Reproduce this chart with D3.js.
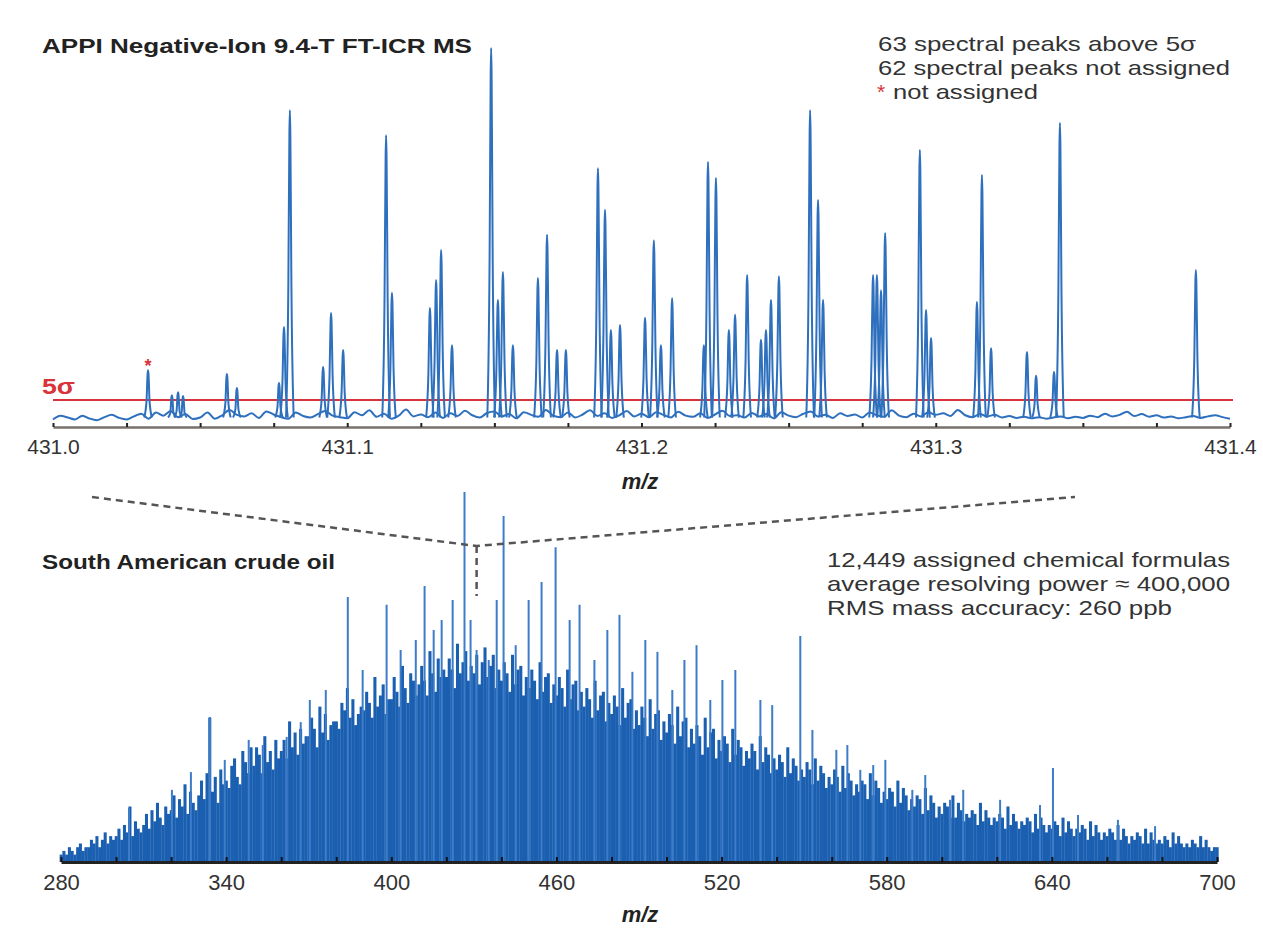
<!DOCTYPE html>
<html><head><meta charset="utf-8">
<script src="https://cdn.jsdelivr.net/npm/d3@7"></script>
<style>
body{margin:0;background:#fff;}
svg text{font-family:"Liberation Sans",Arial,Helvetica,sans-serif;}
</style></head>
<body><svg id="c" width="1263" height="936"></svg>
<script>
// ---------------- DATA ----------------
// Top panel: zoomed m/z 431.0 - 431.4 (relative intensity, tallest = 100)
const topTickLabels = [431.0, 431.1, 431.2, 431.3, 431.4];
const topPeakMz = [431.0323,431.0404,431.0425,431.0442,431.0591,431.0625,431.0768,431.0785,431.0805,431.0918,
  431.0945,431.0986,431.1132,431.1152,431.1281,431.1302,431.1319,431.1356,431.1489,431.1512,
  431.1529,431.1563,431.1648,431.1679,431.1713,431.1743,431.1852,431.1876,431.1896,431.1927,
  431.2012,431.2042,431.2066,431.2104,431.2212,431.2226,431.2253,431.2297,431.2318,431.2359,
  431.2406,431.2423,431.2440,431.2467,431.2573,431.2600,431.2617,431.2787,431.2800,431.2814,
  431.2828,431.2946,431.2967,431.2984,431.3140,431.3157,431.3188,431.3310,431.3341,431.3402,
  431.3422,431.3884];
const topPeakInt = [15.0,8.4,9.2,8.2,14.0,10.3,11.6,26.4,83.6,15.8,
  30.1,20.3,77.0,35.4,31.4,38.8,46.7,21.6,100,33.5,
  40.9,21.6,39.3,50.7,20.3,20.3,68.3,57.3,25.6,26.9,
  28.8,49.3,21.6,34.0,21.6,69.9,65.7,25.6,29.6,40.1,
  23.0,25.6,33.5,39.8,83.6,59.9,33.5,40.1,40.1,36.1,
  51.2,73.1,30.9,23.5,33.0,66.5,20.8,19.8,13.5,14.5,
  80.2,41.4];
const unassignedMz = [431.0323];
const noiseStartMz = 431.0, noiseStepMz = 0.0025;
const topNoise = [2,3,2.5,2,3,2.2,1.8,2.6,3.2,2.4,2,2.8,3.5,2.2,3.8,3,4.2,2.6,3.4,2.1,
  2.5,3.8,2.2,3.1,4.5,3.2,2.8,3.6,2.4,4.1,3.3,2.6,2.2,3.8,2.9,2.5,3.4,4.2,3,2.6,
  2.3,3.9,3.1,4.4,2.7,3.5,2.2,3,4.6,2.8,3.3,2.6,3.8,2.4,3.6,2.9,4.3,3.1,2.5,3.7,
  4.1,2.8,3.4,2.3,3.9,3.2,2.7,4.5,3,2.6,3.8,2.5,3.3,4.4,2.9,3.6,2.4,3.1,4.2,2.8,
  3.5,2.6,3.9,3.2,2.5,4,3,2.7,3.6,2.4,3.3,4.3,2.9,3.1,2.5,3.7,2.8,3.4,2.3,3.9,
  3,2.6,3.5,4.1,2.8,3.2,2.4,3.6,2.9,3.3,2.5,3.8,3.1,2.7,4.4,3,2.6,3.5,2.8,3.9,
  3.2,3.6,2.9,4.5,3.1,2.6,3.4,2.8,3.2,2.5,2.9,2.4,2.7,2.3,2.6,2.2,2.5,2.8,2.3,2.7,
  2.4,3,2.6,3.5,2.8,3.2,4,2.9,3.4,2.7,3.1,2.5,2.8,2.3,2.6,2.9,2.4,2.8,3.1,2.6,2.2];
const fiveSigma = 7.1;

// Bottom panel: broadband spectrum m/z 280 - 700 (one value per nominal mass)
const bottomTickLabels = [280, 340, 400, 460, 520, 580, 640, 700];
const bulkStartMz = 280;
const bulkInt = [
  2,3,2,4,3,2,4,5,3,4,       4,6,5,7,4,6,8,5,7,6,       7,9,6,10,8,15,7,11,9,8,    10,13,9,14,11,16,12,10,15,13,
  14,18,12,17,15,21,13,19,16,14, 18,22,17,24,39,19,23,16,25,21, 22,20,26,28,23,21,30,27,24,31,
  26,31,29,24,34,27,30,25,33,28, 30,33,28,38,31,35,29,36,32,34, 34,39,36,31,42,35,40,33,37,38,
  38,36,43,41,47,39,44,37,40,42, 41,46,43,39,50,42,45,48,40,44, 44,50,46,42,53,47,43,51,49,45,
  48,53,49,45,57,51,46,55,50,52, 50,55,52,47,59,51,54,57,49,53, 51,56,48,54,58,50,53,56,47,52,
  49,54,51,46,56,48,52,53,45,50, 47,52,49,44,54,46,50,51,43,48, 45,50,47,42,52,44,48,49,41,46,
  42,47,44,39,49,41,45,46,38,43, 40,45,42,37,47,39,43,44,36,41, 37,42,39,34,44,36,40,41,33,38,
  35,40,37,32,42,34,38,39,31,36, 32,37,34,29,39,31,35,36,28,33, 30,34,32,27,36,29,33,31,26,30,
  28,32,30,25,34,27,31,29,24,28, 25,29,27,23,31,24,28,26,22,25, 23,27,25,21,28,22,26,24,20,23,
  21,25,23,19,26,20,24,22,18,21, 19,22,21,17,24,18,22,20,16,19, 17,20,19,15,22,16,20,18,14,17,
  15,18,17,13,20,14,18,16,12,15, 13,16,15,12,18,12,16,14,11,13, 12,14,13,10,16,11,14,12,10,12,
  11,13,12,9,15,10,13,11,9,11,   10,12,11,8,13,9,12,10,8,10,    9,11,10,7,12,8,11,9,7,9,
  8,10,9,6,11,7,10,8,6,8,        7,9,8,6,10,6,9,7,5,7,          6,8,7,5,9,5,8,6,5,6,
  5,7,6,4,8,5,7,5,4,5,           4,6,5,4,7,4,6,4,3,4,           4];
const spikeMz = [304.7,320.3,327.2,334.1,339.5,348.2,353.3,362,367.1,370.4,376.2,384.2,389.6,398.3,403.4,408.9,412.1,415.4,418.3,422.3,
  426.6,428.8,431,435.4,438.3,440.8,445.2,449.9,454.6,459.7,464.8,468.4,473.8,478.5,482.9,487.6,492.3,496.7,502.1,506.5,
  510.9,515.9,520.3,525,534.1,538.4,548.6,553,561.7,565.7,570.4,575.1,579.5,589.3,594,603,607.8,621.2,635.7,640.4,
  649.5,664,677.5];
const spikeInt = [14.6,19.5,24.3,39.2,27.6,33,31.6,33.8,37.8,43.8,46.5,71.6,51.9,69.5,57.3,60,74.6,62.7,65.4,70.8,
  100,65.4,57.3,54.6,70.8,93.5,58.6,70.8,75.7,85.1,65.4,69.5,54.6,62.7,66.8,51.4,60,56.8,46.5,54.6,
  58.6,43.8,49.2,51.9,43.8,42.4,61.1,35.7,30.3,31.6,24.9,26.2,27.6,19.5,23.5,16.8,19.5,16.8,15.4,25.4,
  12.7,11.4,9.7];
const zoomMz = 431;

// ---------------- DRAW ----------------
const svg = d3.select("#c");
const blue = "#2e70bd";
const red = "#d8333a";

// top panel scales
const xT = d3.scaleLinear().domain([431.0, 431.4]).range([53, 1230]);
const yT = d3.scaleLinear().domain([0, 100]).range([427, 48]);

// red 5 sigma line
svg.append("line").attr("x1", xT(431.0)).attr("x2", xT(431.4) + 3)
  .attr("y1", yT(fiveSigma)).attr("y2", yT(fiveSigma))
  .attr("stroke", red).attr("stroke-width", 2);

// noise trace
const noisePts = topNoise.map((v, i) => [noiseStartMz + i * noiseStepMz, v]);
const lineT = d3.line().x(d => xT(d[0])).y(d => yT(d[1])).curve(d3.curveMonotoneX);
svg.append("path").datum(noisePts).attr("d", lineT)
  .attr("fill", "none").attr("stroke", blue).attr("stroke-width", 2).attr("stroke-linejoin", "round");

// peaks
const hw = 0.0013;
const peakLine = d3.line().x(d => xT(d[0])).y(d => yT(d[1])).curve(d3.curveMonotoneX);
topPeakMz.forEach((m, i) => {
  const h = topPeakInt[i];
  const pts = [[m - hw, 2.5], [m - hw * 0.4, h * 0.45], [m - hw * 0.12, h * 0.93], [m, h], [m + hw * 0.12, h * 0.93], [m + hw * 0.4, h * 0.45], [m + hw, 2.5]];
  svg.append("path").datum(pts).attr("d", peakLine)
    .attr("fill", "none").attr("stroke", blue).attr("stroke-width", 2).attr("stroke-linejoin", "round");
});

// star for unassigned
unassignedMz.forEach(m => {
  const i = topPeakMz.indexOf(m);
  svg.append("text").attr("x", xT(m)).attr("y", yT(topPeakInt[i]) + 2)
    .attr("text-anchor", "middle").attr("fill", red).attr("font-size", 18).attr("font-weight", "bold").text("*");
});

// top axis
const axT = d3.axisBottom(xT).tickValues(topTickLabels).tickFormat(d3.format(".1f")).tickSize(0).tickPadding(12);
const gT = svg.append("g").attr("transform", `translate(0,${yT(0)})`).call(axT);
gT.select(".domain").attr("stroke", "#77716a").attr("stroke-width", 2.5);
gT.selectAll("text").attr("font-size", 21).attr("fill", "#333").attr("font-family", "Liberation Sans, Arial");
const minorT = d3.axisBottom(xT).tickValues(d3.range(0, 17).map(i => 431 + i * 0.025)).tickSize(-4).tickFormat("");
const gT2 = svg.append("g").attr("transform", `translate(0,${yT(0)})`).call(minorT);
gT2.select(".domain").remove();
gT2.selectAll("line").attr("stroke", "#222").attr("stroke-width", 2);

svg.append("text").attr("x", 640).attr("y", 489).attr("text-anchor", "middle")
  .attr("font-size", 22).attr("font-weight", "bold").attr("font-style", "italic").attr("fill", "#222").text("m/z");

// 5 sigma label
svg.append("text").attr("x", 42).attr("y", 394).attr("font-size", 22).attr("font-weight", "bold").attr("fill", red)
  .attr("textLength", 33).attr("lengthAdjust", "spacingAndGlyphs").text("5σ");

// top titles
svg.append("text").attr("x", 42).attr("y", 53).attr("font-size", 21).attr("font-weight", "bold").attr("fill", "#222")
  .attr("textLength", 430).attr("lengthAdjust", "spacingAndGlyphs")
  .text("APPI Negative-Ion 9.4-T FT-ICR MS");
const rt = ["63 spectral peaks above 5σ", "62 spectral peaks not assigned", "not assigned"];
const rtW = [318, 352, 160];
svg.append("text").attr("x", 878).attr("y", 51).attr("font-size", 21).attr("fill", "#333")
  .attr("textLength", rtW[0]).attr("lengthAdjust", "spacingAndGlyphs").text(rt[0]);
svg.append("text").attr("x", 878).attr("y", 75).attr("font-size", 21).attr("fill", "#333")
  .attr("textLength", rtW[1]).attr("lengthAdjust", "spacingAndGlyphs").text(rt[1]);
svg.append("text").attr("x", 877).attr("y", 99).attr("font-size", 21).attr("fill", red).text("*");
svg.append("text").attr("x", 893).attr("y", 99).attr("font-size", 21).attr("fill", "#333")
  .attr("textLength", rtW[2] - 15).attr("lengthAdjust", "spacingAndGlyphs").text(rt[2]);

// bottom panel scales
const xB = d3.scaleLinear().domain([280, 700]).range([61, 1217]);
const yB = d3.scaleLinear().domain([0, 100]).range([862, 492]);

// bulk sticks (one per nominal mass, full width -> dense fill)
const bw = (xB(281) - xB(280));
svg.append("g").selectAll("rect").data(bulkInt).join("rect")
  .attr("x", (d, i) => xB(bulkStartMz + i) - bw / 2).attr("width", bw + 0.3)
  .attr("y", d => yB(d)).attr("height", d => yB(0) - yB(d)).attr("fill", "#1b5fb1");

// spikes
svg.append("g").selectAll("line").data(spikeMz).join("line")
  .attr("x1", d => xB(d)).attr("x2", d => xB(d))
  .attr("y1", yB(0)).attr("y2", (d, i) => yB(spikeInt[i]))
  .attr("stroke", "#3c7cc8").attr("stroke-width", 2);

// bottom axis
const axB = d3.axisBottom(xB).tickValues(bottomTickLabels).tickSize(0).tickPadding(12);
const gB = svg.append("g").attr("transform", `translate(0,${yB(0)})`).call(axB);
gB.select(".domain").attr("stroke", "#222").attr("stroke-width", 3);
gB.selectAll("text").attr("font-size", 22).attr("fill", "#333").attr("font-family", "Liberation Sans, Arial");
const minorB = d3.axisBottom(xB).tickValues(d3.range(280, 701, 20)).tickSize(-5).tickFormat("");
const gB2 = svg.append("g").attr("transform", `translate(0,${yB(0)})`).call(minorB);
gB2.select(".domain").remove();
gB2.selectAll("line").attr("stroke", "#111").attr("stroke-width", 2);

svg.append("text").attr("x", 640).attr("y", 922).attr("text-anchor", "middle")
  .attr("font-size", 22).attr("font-weight", "bold").attr("font-style", "italic").attr("fill", "#222").text("m/z");

// zoom connector dashed lines
const zx = xB(zoomMz);
const dash = svg.append("g").attr("fill", "none").attr("stroke", "#555").attr("stroke-width", 2.5).attr("stroke-dasharray", "7,5");
dash.append("path").attr("d", d3.line()([[92, 497], [zx, 546], [1075, 497]]));
dash.append("path").attr("d", d3.line()([[zx, 546], [zx, 596]]));

// bottom titles
svg.append("text").attr("x", 42).attr("y", 569).attr("font-size", 21).attr("font-weight", "bold").attr("fill", "#222")
  .attr("textLength", 293).attr("lengthAdjust", "spacingAndGlyphs")
  .text("South American crude oil");
const rb = ["12,449 assigned chemical formulas", "average resolving power ≈ 400,000", "RMS mass accuracy: 260 ppb"];
const rbW = [403, 403, 345];
rb.forEach((s, i) => svg.append("text").attr("x", 827).attr("y", 567 + i * 24).attr("font-size", 21).attr("fill", "#333")
  .attr("textLength", rbW[i]).attr("lengthAdjust", "spacingAndGlyphs").text(s));
</script></body></html>
